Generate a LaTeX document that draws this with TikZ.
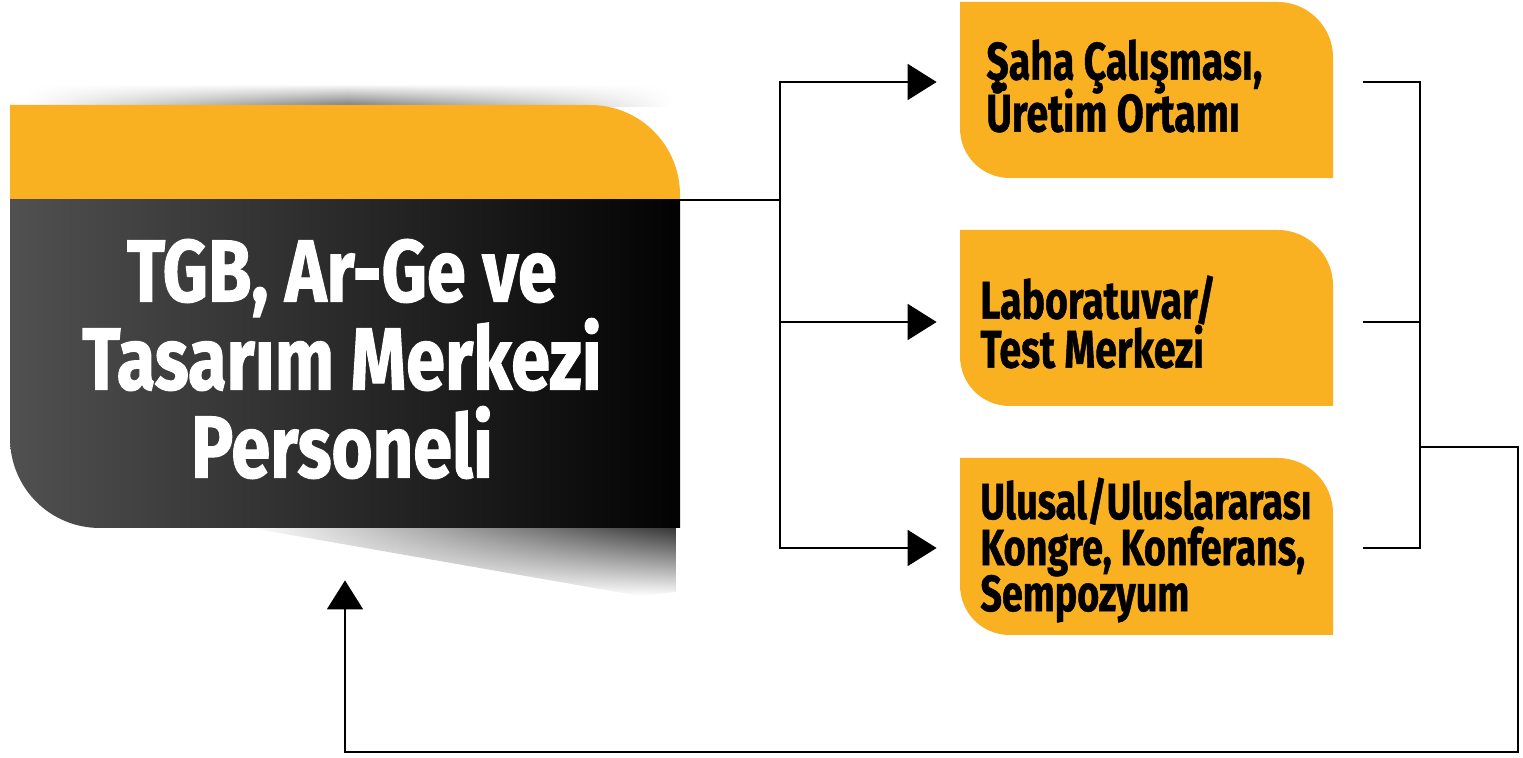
\documentclass[tikz,border=0pt]{standalone}
\usepackage{fontspec}
\newfontfamily\cf[FakeStretch=0.74, BoldFeatures={FakeBold=0.8}]{Fira Sans}
\newfontfamily\cfb[FakeStretch=0.8, BoldFeatures={FakeBold=1.2}]{Fira Sans}
\usetikzlibrary{arrows.meta,fadings}
\definecolor{orng}{HTML}{F9B122}
\tikzfading[name=hfade, left color=transparent!100, right color=transparent!100, middle color=transparent!0]
\lineskiplimit=-100pt
\begin{document}
\begin{tikzpicture}[x=0.5pt,y=-0.5pt,
  conn/.style={line width=0.9pt, draw=black},
  tip/.style={-{Triangle[length=14.5pt,width=18pt]}},
  area/.style={inner sep=0, minimum width=186.5pt, minimum height=88pt},
  boxtext/.style={anchor=west, inner sep=0, align=left, text=black,
    font=\cf\bfseries\fontsize{26.5}{#1}\selectfont},
  bigtext/.style={inner sep=0, align=center, text=white,
    font=\cfb\bfseries\fontsize{44}{44}\selectfont}]
\useasboundingbox (0,0) rectangle (1523,758);
% shadows
\shade[top color=white, bottom color=black!55, path fading=hfade] (25,84) rectangle (670,107);
\shade[left color=white, right color=black!80, path fading=south] (245,527) -- (676,527) -- (676,592) -- (640,596) -- cycle;
% big box
\begin{scope}
\clip (10,105) -- (590,105) .. controls (640,105) and (680,145) .. (680,195) -- (680,528) -- (100,528) .. controls (50,528) and (10,488) .. (10,438) -- cycle;
\fill[orng] (0,100) rectangle (700,200);
\shade[left color=black!68, middle color=black!88, right color=black] (0,200) rectangle (700,535);
\end{scope}
\node[inner sep=0, minimum width=335pt, minimum height=211.5pt] (bigbox) at (345,316.5) {};
\node[bigtext] (main) at (342,359) {TGB, Ar-Ge ve\\Tasarım Merkezi\\Personeli};
% orange boxes
\fill[orng] (960,2) -- (1278,2) .. controls (1308,2) and (1333,27) .. (1333,57) -- (1333,178) -- (1010,178) .. controls (982,178) and (960,156) .. (960,128) -- cycle;
\fill[orng] (960,230) -- (1278,230) .. controls (1308,230) and (1333,255) .. (1333,285) -- (1333,406) -- (1010,406) .. controls (982,406) and (960,384) .. (960,356) -- cycle;
\fill[orng] (960,458) -- (1278,458) .. controls (1308,458) and (1333,483) .. (1333,513) -- (1333,635) -- (1010,635) .. controls (982,635) and (960,613) .. (960,585) -- cycle;
\node[area] (b1) at (1146.5,90) {};
\node[area] (b2) at (1146.5,318) {};
\node[area] (b3) at (1146.5,546.5) {};
\node[boxtext=26pt] (t1) at (986,86) {Şaha Çalışması,\\Üretim Ortamı};
\node[boxtext=24.5pt] (t2) at (980,322) {Laboratuvar/\\Test Merkezi};
\node[boxtext=23pt, font=\cf\bfseries\fontsize{25.5}{23}\selectfont] (t3) at (980,550) {Ulusal/Uluslararası\\Kongre, Konferans,\\Sempozyum};
% connectors
\coordinate (mo) at (680,200);
\coordinate (split) at (780,200);
\coordinate (join) at (1420,447);
\draw[conn] (mo) -- (split);
\draw[conn,tip] (split) |- ([xshift=-11.5pt,yshift=4pt]b1.west);
\draw[conn,tip] (split) |- ([xshift=-11.5pt,yshift=-2pt]b2.west);
\draw[conn,tip] (split) |- ([xshift=-11.5pt,yshift=-0.75pt]b3.west);
\draw[conn] ([xshift=15pt,yshift=4pt]b1.east) -| (join);
\draw[conn] ([xshift=15pt,yshift=-2pt]b2.east) -- ++(28.5pt,0);
\draw[conn] ([xshift=15pt,yshift=-0.75pt]b3.east) -| (join);
\draw[conn,tip] (join) -- ++(49pt,0) |- ([yshift=-112pt]bigbox.south) -- ([yshift=-26pt]bigbox.south);
\end{tikzpicture}
\end{document}
